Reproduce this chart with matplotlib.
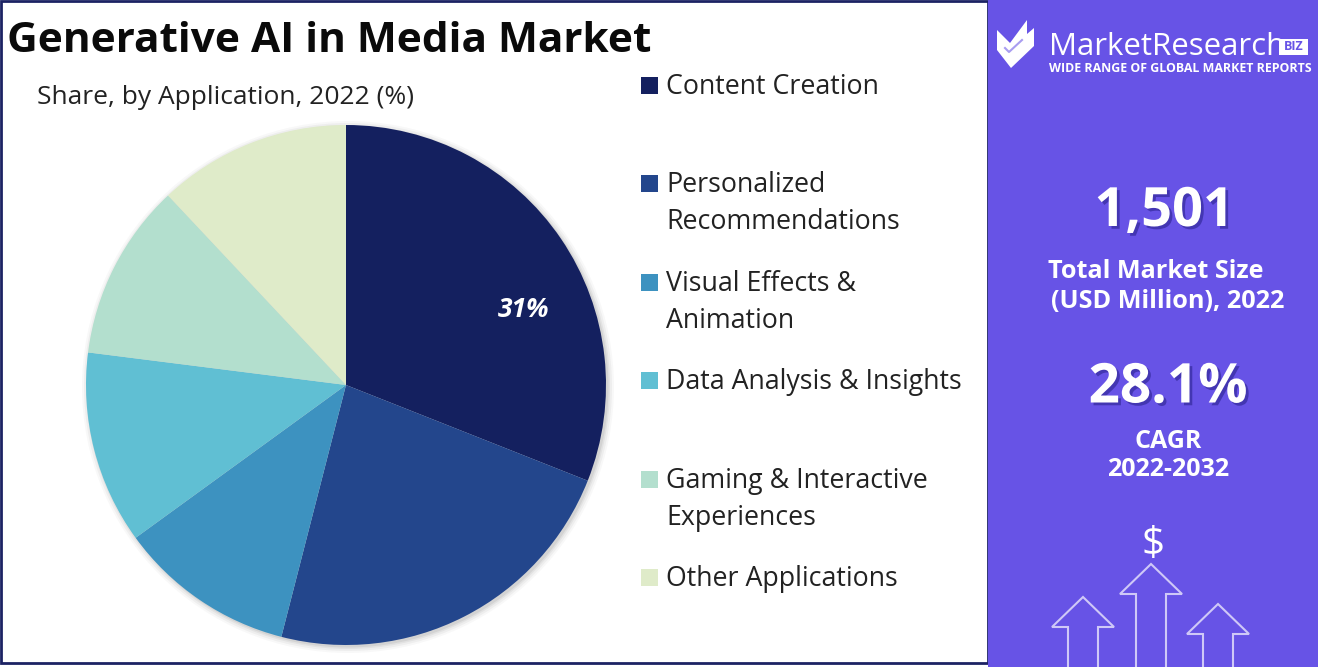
import matplotlib
matplotlib.use("Agg")
from matplotlib import pyplot as plt
from matplotlib.patches import Rectangle, Polygon, Circle
import matplotlib.patheffects as pe

plt.rcParams['font.family'] = ['Open Sans', 'DejaVu Sans']

applications = ["Content Creation", "Personalized\nRecommendations", "Visual Effects &\nAnimation",
                "Data Analysis & Insights", "Gaming & Interactive\nExperiences", "Other Applications"]
shares = [31, 23, 11, 12, 11, 12]
colors = ["#14205f", "#23468c", "#3d92c0", "#60bfd3", "#b3dfce", "#dfebc9"]
legend_y = [85, 183, 282, 380, 479, 577]  # first line of each legend label

W, H = 1318, 667
fig = plt.figure(figsize=(W / 100, H / 100), dpi=100, facecolor="white")

# whole figure in pixel coordinates, y going down like the picture
bg = fig.add_axes([0, 0, 1, 1])
bg.set_xlim(0, W)
bg.set_ylim(H, 0)
bg.axis("off")

bg.add_patch(Rectangle((1, 1), 987, 662, fc="white", ec="#1c2263", lw=2))
bg.add_patch(Rectangle((988, 0), 330, 667, fc="#6753e6", ec="none"))

bg.text(7, 42, "Generative AI in Media Market", fontsize=30.5, fontweight="bold", color="#0a0a0a", va="center")
bg.text(37, 97, "Share, by Application, 2022 (%)", fontsize=19, color="#222222", va="center")

# soft shadow under the pie
for grow, a in [(6, 0.04), (4, 0.06), (2, 0.08), (0.5, 0.1)]:
    bg.add_patch(Circle((348, 387), 260 + grow, fc="#555555", ec="none", alpha=a))

pie_ax = fig.add_axes([86 / W, 1 - 645 / H, 520 / W, 520 / H])
wedges, _ = pie_ax.pie(shares, colors=colors, startangle=90, counterclock=False, radius=1)
pie_ax.set_xlim(-1, 1)
pie_ax.set_ylim(-1, 1)
pie_ax.text(0.685, 0.29, "31%", color="white", fontsize=19, fontweight="bold", style="italic",
            ha="center", va="center")

# legend
for name, c, y in zip(applications, colors, legend_y):
    bg.add_patch(Rectangle((641, y - 8), 17, 17, fc=c, ec="none"))
    for i, line in enumerate(name.split("\n")):
        bg.text(666, y + 2 + i * 37, line, fontsize=19.3, color="#222222", va="center")

# side panel numbers
shadow = [pe.withSimplePatchShadow(offset=(2, -2), shadow_rgbFace="#2c2390", alpha=0.6)]
bg.text(1164, 212, "1,501", fontsize=39, fontweight="bold", color="white", ha="center", va="center", path_effects=shadow)
bg.text(1156, 271, "Total Market Size", fontsize=18.2, fontweight="bold", color="white", ha="center", va="center")
bg.text(1168, 301, "(USD Million), 2022", fontsize=18.2, fontweight="bold", color="white", ha="center", va="center")
bg.text(1168, 388, "28.1%", fontsize=39.5, fontweight="bold", color="white", ha="center", va="center", path_effects=shadow)
bg.text(1168, 441, "CAGR", fontsize=18, fontweight="bold", color="white", ha="center", va="center")
bg.text(1168, 469, "2022-2032", fontsize=18, fontweight="bold", color="white", ha="center", va="center")

# logo
bg.add_patch(Polygon([(997, 30), (1010, 43), (1027, 20), (1027, 34), (1034, 28), (1034, 46), (1011, 68), (997, 50)],
                     fc="white", ec="none"))
bg.plot([1005, 1009, 1022], [48, 52, 40], color="#a99df0", lw=1.5)
bg.text(1049, 47, "MarketResearch", fontsize=22.5, color="white", va="center")
bg.add_patch(Rectangle((1279, 39), 29, 16, fc="white", ec="none"))
bg.text(1293.5, 47, "BIZ", fontsize=9, fontweight="bold", color="#6753e6", ha="center", va="center")
bg.text(1049, 68, "WIDE RANGE OF GLOBAL MARKET REPORTS", fontsize=8.9, fontweight="bold", color="white", va="center")

# arrows at the bottom of the panel
def arrow(cx, top, base):
    xs = [cx - 15, cx - 15, cx - 31, cx, cx + 31, cx + 15, cx + 15]
    ys = [667, base, base, top, base, base, 667]
    bg.plot(xs, ys, color="#cfc8f7", lw=1.5, solid_joinstyle="miter")

arrow(1083, 597, 627)
arrow(1151, 564, 594)
arrow(1218, 604, 634)
bg.text(1153, 545, "$", fontsize=29, color="white", ha="center", va="center")

fig.savefig("out.png", dpi=100)
